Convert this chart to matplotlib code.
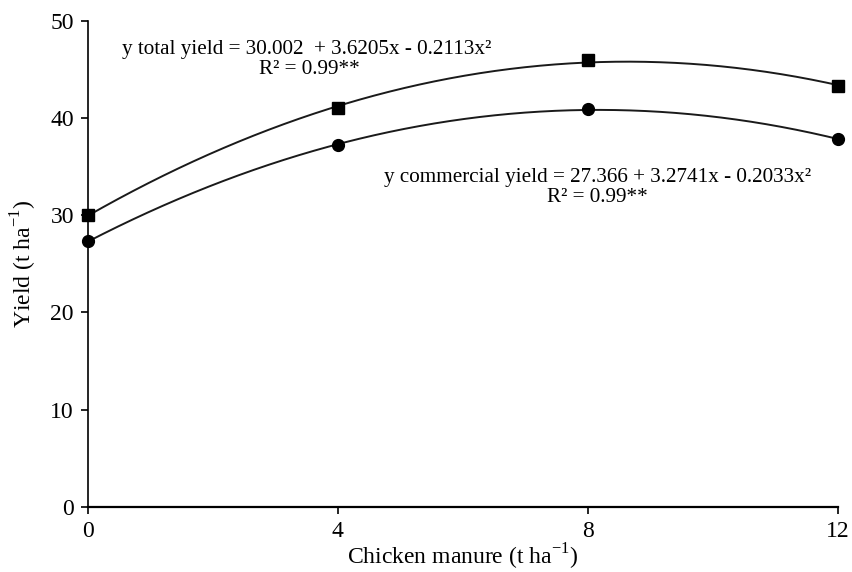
import numpy as np
import matplotlib.pyplot as plt

plt.rcParams['font.family'] = ['Liberation Serif', 'DejaVu Serif']
plt.rcParams['mathtext.fontset'] = 'custom'
plt.rcParams['mathtext.rm'] = 'Liberation Serif'

manure     = [0, 4, 8, 12]
total      = [30.0, 41.0, 45.9, 43.3]
commercial = [27.3, 37.2, 40.9, 37.8]

# quadratic trend lines through the observed points
xx = np.linspace( 0, 12, 200 )
fit_total      = np.polyval( np.polyfit( manure, total, 2 ), xx )
fit_commercial = np.polyval( np.polyfit( manure, commercial, 2 ), xx )

fig = plt.figure( figsize=(8.53, 5.72), dpi=100 )
ax = fig.add_axes( [0.103, 0.114, 0.879, 0.85] )

ax.plot( xx, fit_total, color="#1a1a1a", linewidth=1.4 )
ax.plot( xx, fit_commercial, color="#1a1a1a", linewidth=1.4 )
ax.plot( manure, total, "s", color="black", markersize=8.5, clip_on=False )
ax.plot( manure, commercial, "o", color="black", markersize=8.5, clip_on=False )

ax.set_xlim( 0, 12 )
ax.set_ylim( 0, 50 )
ax.set_xticks( [0, 4, 8, 12] )
ax.set_yticks( [0, 10, 20, 30, 40, 50] )
ax.spines["top"].set_visible( False )
ax.spines["right"].set_visible( False )
ax.spines["left"].set_linewidth( 1.2 )
ax.spines["bottom"].set_linewidth( 1.6 )
ax.tick_params( direction="out", length=5, width=1.2, labelsize=17, pad=5 )

ax.set_xlabel( "Chicken manure (t ha$^{-1}$)", fontsize=17, labelpad=0 )
ax.set_ylabel( "Yield (t ha$^{-1}$)", fontsize=17, labelpad=8 )

ax.text( 3.5, 46.6, "y total yield = 30.002  + 3.6205x - 0.2113x²", fontsize=15.2, ha="center" )
ax.text( 3.55, 44.5, "R² = 0.99**", fontsize=15.2, ha="center" )
ax.text( 8.15, 33.4, "y commercial yield = 27.366 + 3.2741x - 0.2033x²", fontsize=15.2, ha="center" )
ax.text( 8.15, 31.3, "R² = 0.99**", fontsize=15.2, ha="center" )

fig.savefig( "out.png", dpi=100 )
